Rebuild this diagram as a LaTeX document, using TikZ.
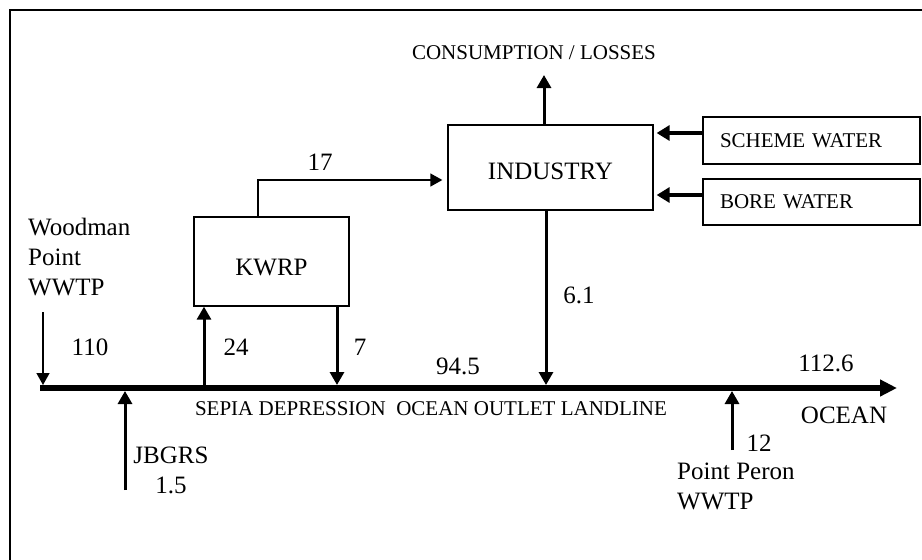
\documentclass[tikz,border=0pt]{standalone}
\usepackage{fontspec}
\setmainfont{Liberation Serif}
\usetikzlibrary{positioning,arrows.meta,calc}
\tikzset{
  big/.style   = {font=\fontsize{25}{30}\selectfont},
  caps/.style  = {font=\fontsize{21}{25}\selectfont},
  % --- boxes
  plant/.style = {draw, line width=1.3pt, inner sep=0pt, big},
  srcbox/.style= {draw, line width=1.3pt, inner xsep=17pt, inner ysep=0pt,
                  text width=183pt, align=left, caps},
  % --- edges
  landline/.style = {-{Triangle[width=16pt,length=17pt]}, line width=6pt},
  flow/.style  = {-{Triangle[width=14pt,length=13pt]}, line width=3pt},
  feed/.style  = {-{Triangle[width=15pt,length=13pt]}, line width=4.5pt},
  thin/.style  = {-{Triangle[width=13pt,length=12pt]}, line width=1.3pt},
}
\begin{document}
\begin{tikzpicture}[x=1pt,y=-1pt]
  \useasboundingbox (0,0) rectangle (922,560);
  \draw[line width=1.3pt] (10,560) -- (10,10) -- (922,10);

  % --- boxes
  \node[plant, minimum width=155pt, minimum height=89pt,
        text height=28pt, text depth=0pt] (kwrp) at (271.5,261.5) {KWRP};
  \node[plant, minimum width=205pt, minimum height=85pt,
        text height=23.5pt, text depth=0pt] (industry) at (550.5,167.5) {INDUSTRY};
  \node[srcbox, minimum height=47pt] (scheme) at (811.5,140.5) {SCHEME WATER};
  \node[srcbox, minimum height=46pt] (bore) at (811.5,202) {BORE WATER};

  % --- landline and junctions
  \coordinate (lstart) at (40,388);
  \coordinate (lend)   at (897,388);
  \coordinate (jwood)  at (43,388);
  \coordinate (jbg)    at (125,388);
  \coordinate (j24)    at (204,388);
  \coordinate (j7)     at (337,388);
  \coordinate (jind)   at (546,388);
  \coordinate (jper)   at (732,388);
  \draw[landline] (lstart) -- (lend);

  % --- flows
  \draw[thin, shorten >=3pt] (43,312) -- (jwood);
  \draw[flow, shorten >=3pt] (125,490) -- (jbg);
  \draw[flow, shorten >=3pt] (732,450) -- (jper);
  \draw[flow] (j24) -- (j24 |- kwrp.south);
  \draw[flow, shorten >=3pt] (j7 |- kwrp.south) -- (j7);
  \draw[flow, shorten >=3pt] (jind |- industry.south) -- (jind);
  \coordinate (cons) at (544,75);
  \draw[flow] (cons |- industry.north) -- (cons);
  \draw[thin, shorten >=5pt] (kwrp.north -| 258,0) -- (258,180) -- (industry.west |- 0,180);
  \draw[feed, shorten >=3pt] (scheme.west |- 0,133) -- (industry.east |- 0,133);
  \draw[feed, shorten >=3pt] (bore.west |- 0,195) -- (industry.east |- 0,195);

  % --- labels
  \node[caps] (conslbl) at (534,53) {CONSUMPTION / LOSSES};
  \node[big] (q17)  at (320,162) {17};
  \node[big] (q110) at (90,347)  {110};
  \node[big] (q24)  at (236,347) {24};
  \node[big] (q7)   at (360,347) {7};
  \node[big] (q945) at (458,366) {94.5};
  \node[big] (q61)  at (579,295) {6.1};
  \node[big] (q1126) at (826,363) {112.6};
  \node[big] (ocean) at (844,415) {OCEAN};
  \node[big] (q12)  at (759,443) {12};
  \node[caps] (lineLbl) at (431,409) {SEPIA DEPRESSION\ \ OCEAN OUTLET LANDLINE};
  \node[big, anchor=north west, inner sep=0pt, align=left] (woodman) at (28,218)
    {Woodman\\Point\\WWTP};
  \node[big, anchor=north, inner sep=0pt, align=center] (jbgrs) at (171,447)
    {JBGRS\\1.5};
  \node[big, anchor=north west, inner sep=0pt, align=left] (peron) at (677,463)
    {Point Peron\\WWTP};
\end{tikzpicture}
\end{document}
